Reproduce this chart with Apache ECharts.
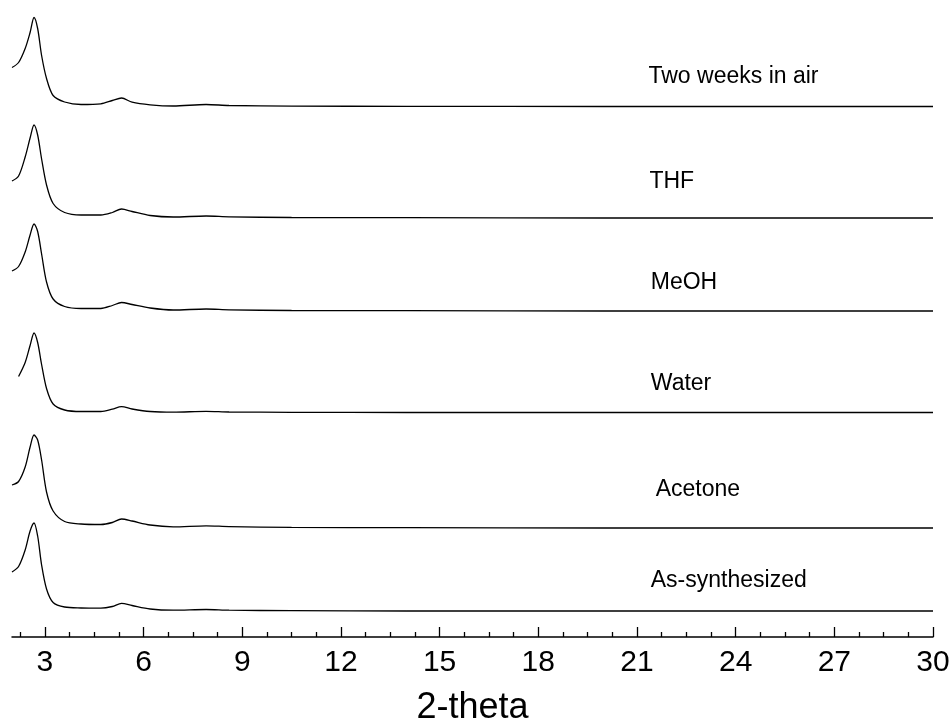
<!DOCTYPE html>
<html>
<head>
<meta charset="utf-8">
<script src="https://cdn.jsdelivr.net/npm/echarts@6/dist/echarts.min.js"></script>
<style>
  html, body { margin: 0; padding: 0; background: #fff; }
  #chart { width: 951px; height: 724px; }
</style>
</head>
<body>
<div id="chart"></div>
<script>
// Low-angle XRD patterns, stacked with vertical offsets (intensity in a.u.)
const twoTheta = [2.0, 2.2, 2.4, 2.55, 2.67, 2.78, 2.9, 3.05, 3.25, 3.6, 4.1, 4.7, 5.05, 5.33, 5.65, 6.2, 6.9, 7.9, 8.6, 10.5, 14, 20, 25, 30];

const twoWeeksInAir = [39, 44, 58, 74, 89, 78, 51, 28, 11, 4.5, 2, 2.7, 6, 8.5, 4.3, 1.7, 0.5, 2, 1, 0.4, 0.2, 0, 0, 0];
const thf           = [37, 42, 61, 80, 93, 83, 59, 33, 14.5, 5.5, 3, 3, 5.5, 9, 6.5, 2.5, 1, 2, 1.2, 0.5, 0.3, 0, 0, 0];
const meoh          = [40, 44.5, 59, 76, 87, 79.5, 57, 29, 12, 4.5, 2.5, 2.5, 5.5, 8.5, 6.5, 3, 1, 2, 1.2, 0.5, 0.3, 0, 0, 0];
const water         = [null, 36, 50, 67, 79.5, 70, 48, 24, 8.5, 2.5, 1, 1, 3.3, 5.8, 3.5, 1, 0.3, 1.2, 0.5, 0.2, 0, 0, 0, 0];
const acetone       = [43, 46.5, 61, 81, 93, 88, 68, 36, 17, 6.5, 4, 3.5, 5.5, 9, 7, 3, 1.2, 2.2, 1.4, 0.7, 0.3, 0, 0, 0];
const asSynthesized = [39, 44.5, 61, 80, 88, 75, 46, 22, 8.5, 4, 3, 2.8, 4.5, 7.7, 5.5, 2, 0.8, 1.5, 0.8, 0.3, 0, 0, 0, 0];

const sampleNames = ['Two weeks in air', 'THF', 'MeOH', 'Water', 'Acetone', 'As-synthesized'];
const sampleData  = [twoWeeksInAir, thf, meoh, water, acetone, asSynthesized];
const offsets     = [530.5, 419, 326, 224.5, 109, 26];
// where each sample name sits: 2-theta position and height above its trace baseline
const labelAngle  = [21.35, 21.38, 21.42, 21.42, 21.57, 21.42];
const labelLift   = [30, 36, 28, 29, 38, 30];

const majorTicks = [3, 6, 9, 12, 15, 18, 21, 24, 27, 30];
const minorTicks = [];
for (let v = 2.25; v <= 30.001; v += 0.75) {
  const r = Math.round(v * 100) / 100;
  if (!majorTicks.includes(r)) minorTicks.push(r);
}

const FONT = '"Liberation Sans", Arial, Helvetica, sans-serif';

const series = sampleNames.map((name, i) => ({
  name: name,
  type: 'line',
  xAxisIndex: 0,
  showSymbol: false,
  smooth: 0.3,
  connectNulls: false,
  lineStyle: { color: '#000', width: 1.3 },
  itemStyle: { color: '#000' },
  silent: true,
  animation: false,
  data: twoTheta.map((t, k) => sampleData[i][k] == null ? [t, null] : [t, offsets[i] + sampleData[i][k]]),
  markPoint: {
    symbol: 'circle',
    symbolSize: 0,
    silent: true,
    animation: false,
    label: {
      show: true,
      position: 'right',
      distance: 0,
      formatter: name,
      color: '#000',
      fontFamily: FONT,
      fontSize: 23
    },
    data: [{ coord: [labelAngle[i], offsets[i] + labelLift[i]] }]
  }
}));

const chart = echarts.init(document.getElementById('chart'), null, { renderer: 'canvas' });
chart.setOption({
  backgroundColor: '#fff',
  animation: false,
  grid: { left: 12, right: 18, top: 0, bottom: 87, containLabel: false, outerBoundsMode: 'none' },
  xAxis: [
    {
      type: 'value',
      min: 2,
      max: 30,
      position: 'bottom',
      name: '2-theta',
      nameLocation: 'middle',
      nameGap: 53,
      nameTextStyle: { color: '#000', fontFamily: FONT, fontSize: 36 },
      axisLine: { show: true, onZero: false, lineStyle: { color: '#000', width: 1.5 } },
      axisTick: { show: true, inside: true, length: 10, customValues: majorTicks, lineStyle: { color: '#000', width: 1.3 } },
      axisLabel: { show: true, customValues: majorTicks, margin: 11, color: '#000', fontFamily: FONT, fontSize: 30 },
      splitLine: { show: false }
    },
    {
      type: 'value',
      min: 2,
      max: 30,
      position: 'bottom',
      axisLine: { show: false, onZero: false },
      axisTick: { show: true, inside: true, length: 5, customValues: minorTicks, lineStyle: { color: '#000', width: 1.3 } },
      axisLabel: { show: false },
      splitLine: { show: false }
    }
  ],
  yAxis: {
    type: 'value',
    min: 0,
    max: 637,
    show: false,
    splitLine: { show: false }
  },
  series: series
});
</script>
</body>
</html>
